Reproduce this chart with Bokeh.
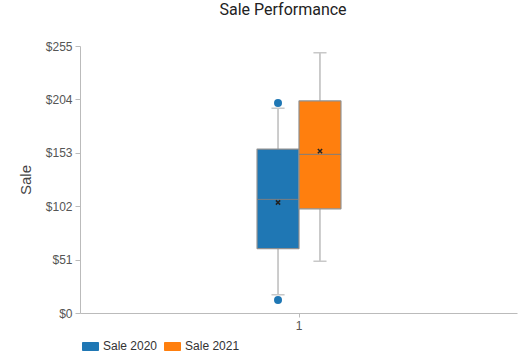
from bokeh.plotting import figure
from bokeh.layouts import column
from bokeh.models import (ColumnDataSource, Legend, LegendItem, Range1d, FactorRange,
                          FixedTicker, Label)
from bokeh.transform import dodge
from bokeh.embed import file_html
from bokeh.resources import INLINE

# ---- data ----
title_text = "Sale Performance"
categories = ["1"]
series = ["Sale 2020", "Sale 2021"]
colors = ["#1f77b4", "#ff7f0e"]
q1 = [62, 100]
median = [109, 152]
q3 = [157, 203]
mean = [106, 155]
lower = [18, 50]
upper = [196, 249]
outliers_2020 = [201, 13]
y_ticks = [0, 51, 102, 153, 204, 255]

BOX_W = 0.096
offsets = [-BOX_W / 2, BOX_W / 2]
CAP = 0.03


def strip(h):
    f = figure(width=532, height=h, x_range=Range1d(0, 1), y_range=Range1d(0, 1),
               output_backend="svg", toolbar_location=None,
               x_axis_type=None, y_axis_type=None,
               min_border_left=0, min_border_right=0, min_border_top=0, min_border_bottom=0)
    f.outline_line_color = None
    f.xgrid.visible = False
    f.ygrid.visible = False
    return f


# ---- title strip ----
tf = strip(22)
tf.add_layout(Label(x=139, y=13, x_units="screen", y_units="screen", text=title_text,
                    text_font="Roboto", text_font_size="16px", text_color="#222222",
                    text_baseline="alphabetic", text_align="left"))

# ---- main chart ----
p = figure(width=532, height=310, x_range=FactorRange(*categories), y_range=Range1d(0, 255),
           output_backend="svg", toolbar_location=None,
           min_border_left=80, min_border_right=15, min_border_top=24, min_border_bottom=10)
p.xgrid.visible = False
p.ygrid.visible = False
p.outline_line_color = None
p.background_fill_color = "white"

for i, name in enumerate(series):
    off = offsets[i]
    src = ColumnDataSource(dict(x=categories, q1=[q1[i]], q3=[q3[i]], med=[median[i]],
                                mean=[mean[i]], lo=[lower[i]], hi=[upper[i]]))
    p.segment(x0=dodge("x", off, range=p.x_range), x1=dodge("x", off, range=p.x_range),
              y0="q3", y1="hi", source=src, line_color="#9a9a9a", line_width=1)
    p.segment(x0=dodge("x", off, range=p.x_range), x1=dodge("x", off, range=p.x_range),
              y0="lo", y1="q1", source=src, line_color="#9a9a9a", line_width=1)
    for f in ("lo", "hi"):
        p.segment(x0=dodge("x", off - CAP / 2, range=p.x_range),
                  x1=dodge("x", off + CAP / 2, range=p.x_range),
                  y0=f, y1=f, source=src, line_color="#c8c8c8", line_width=1.5)
    p.vbar(x=dodge("x", off, range=p.x_range), width=BOX_W, bottom="q1", top="q3",
           source=src, fill_color=colors[i], line_color="#8f8f8f", line_width=1.2)
    p.segment(x0=dodge("x", off - BOX_W / 2, range=p.x_range),
              x1=dodge("x", off + BOX_W / 2, range=p.x_range),
              y0="med", y1="med", source=src, line_color="#7f7f7f", line_width=1)
    p.scatter(x=dodge("x", off, range=p.x_range), y="mean", source=src, marker="x",
              size=6, line_color="#222222", line_width=1.5)

osrc = ColumnDataSource(dict(x=["1"] * len(outliers_2020), y=outliers_2020))
p.scatter(x=dodge("x", offsets[0], range=p.x_range), y="y", source=osrc, marker="circle",
          size=8, fill_color=colors[0], line_color=None)

p.yaxis.ticker = FixedTicker(ticks=y_ticks)
p.yaxis.major_label_overrides = {t: f"${t}" for t in y_ticks}
p.yaxis.axis_label = "Sale"
p.yaxis.axis_label_text_font = "Liberation Sans"
p.yaxis.axis_label_text_font_size = "15px"
p.yaxis.axis_label_text_font_style = "normal"
p.yaxis.axis_label_text_color = "#444444"
p.yaxis.axis_label_standoff = 9
for ax in (p.xaxis, p.yaxis):
    ax.axis_line_color = "#bbbbbb"
    ax.major_tick_line_color = "#bbbbbb"
    ax.minor_tick_line_color = None
    ax.major_tick_in = 0
    ax.major_tick_out = 5
    ax.major_label_text_font = "Liberation Sans"
    ax.major_label_text_font_size = "12px"
    ax.major_label_text_color = "#555555"
    ax.major_label_standoff = 3
p.xaxis.major_tick_out = 4

# ---- legend strip ----
lg = strip(23)
items = []
for i, name in enumerate(series):
    r = lg.vbar(x=[float("nan")], top=[float("nan")], bottom=[float("nan")], width=0.1,
                fill_color=colors[i], line_color=colors[i])
    items.append(LegendItem(label=name, renderers=[r]))
legend = Legend(items=items, orientation="horizontal", location=(0, 2),
                glyph_width=20, glyph_height=10, label_standoff=3, spacing=5,
                padding=0, margin=0, border_line_color=None, background_fill_alpha=0,
                label_height=12,
                label_text_font="Liberation Sans", label_text_font_size="12px",
                label_text_color="#333333")
lg.add_layout(legend)

open("out.html", "w").write(file_html(column(tf, p, lg, spacing=0), INLINE))
